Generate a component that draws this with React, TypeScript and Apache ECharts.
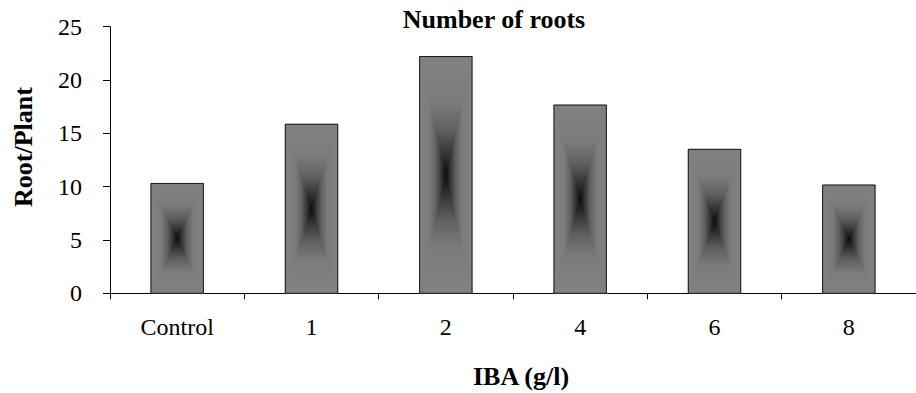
import React, { useEffect, useRef } from "react";
import * as echarts from "echarts";

const categories = ["Control", "1", "2", "4", "6", "8"];
const rootsPerPlant = [10.3, 15.85, 22.2, 17.65, 13.5, 10.15];
const yTicks = { min: 0, max: 25, interval: 5 };
const chartTitle = "Number of roots";
const xTitle = "IBA (g/l)";
const yTitle = "Root/Plant";

const FONT = "'Liberation Serif', 'Times New Roman', serif";

const stops = [
  { offset: 0, color: "#818181" },
  { offset: 0.38, color: "#7c7c7c" },
  { offset: 0.62, color: "#606060" },
  { offset: 0.82, color: "#363636" },
  { offset: 0.94, color: "#1a1a1a" },
  { offset: 1, color: "#0c0c0c" },
];

export default function App() {
  const ref = useRef<HTMLDivElement>(null);
  useEffect(() => {
    if (!ref.current) return;
    const chart = echarts.init(ref.current, null, { renderer: "svg" });
    const grad = (x: number, y: number, x2: number, y2: number) =>
      new echarts.graphic.LinearGradient(x, y, x2, y2, stops);
    const option: any = {
      animation: false,
      backgroundColor: "#ffffff",
      grid: { left: 110, top: 26.7, width: 816, height: 266.6, containLabel: false },
      xAxis: {
        type: "category",
        data: categories,
        boundaryGap: true,
        axisLine: { lineStyle: { color: "#000", width: 1 } },
        axisTick: { show: true, length: 6, lineStyle: { color: "#000" } },
        axisLabel: { color: "#000", fontFamily: FONT, fontSize: 24, margin: 22 },
        splitLine: { show: false },
      },
      yAxis: {
        type: "value",
        min: yTicks.min,
        max: yTicks.max,
        interval: yTicks.interval,
        axisLine: { show: true, lineStyle: { color: "#000", width: 1 } },
        axisTick: { show: true, length: 7, lineStyle: { color: "#000" } },
        axisLabel: { color: "#000", fontFamily: FONT, fontSize: 24, margin: 28 },
        splitLine: { show: false },
      },
      series: [
        {
          type: "custom",
          data: categories.map((c, i) => [i, rootsPerPlant[i]]),
          encode: { x: 0, y: 1 },
          renderItem: (params: any, api: any) => {
            const xi = api.value(0);
            const yv = api.value(1);
            const topPt = api.coord([xi, yv]);
            const basePt = api.coord([xi, 0]);
            const bw = api.size([1, 0])[0] * 0.39;
            const l = topPt[0] - bw / 2;
            const r = topPt[0] + bw / 2;
            const t = topPt[1];
            const b = basePt[1];
            const cx = topPt[0];
            const cy = (t + b) / 2;
            const tri = (pts: number[][], g: any) => ({
              type: "polygon",
              shape: { points: pts },
              style: { fill: g, stroke: g, lineWidth: 0.8 },
            });
            return {
              type: "group",
              children: [
                { type: "rect", shape: { x: l, y: t, width: r - l, height: b - t }, style: { fill: "#6a6a6a" } },
                tri([[l, t], [r, t], [cx, cy]], grad(0, 0, 0, 1)),
                tri([[l, b], [r, b], [cx, cy]], grad(0, 1, 0, 0)),
                tri([[l, t], [l, b], [cx, cy]], grad(0, 0, 1, 0)),
                tri([[r, t], [r, b], [cx, cy]], grad(1, 0, 0, 0)),
                {
                  type: "rect",
                  shape: { x: l, y: t, width: r - l, height: b - t },
                  style: { fill: "none", stroke: "#1a1a1a", lineWidth: 1 },
                },
              ],
            };
          },
        },
      ],
      graphic: [
        {
          type: "text",
          x: 494,
          y: 19,
          style: {
            text: chartTitle,
            font: `bold 26px ${FONT}`,
            fill: "#000",
            align: "center",
            verticalAlign: "middle",
          },
        },
        {
          type: "text",
          x: 521,
          y: 376,
          style: {
            text: xTitle,
            font: `bold 26px ${FONT}`,
            fill: "#000",
            align: "center",
            verticalAlign: "middle",
          },
        },
        {
          type: "text",
          x: 23,
          y: 147,
          rotation: Math.PI / 2,
          style: {
            text: yTitle,
            font: `bold 26px ${FONT}`,
            fill: "#000",
            align: "center",
            verticalAlign: "middle",
          },
        },
      ],
    };
    chart.setOption(option);
    return () => chart.dispose();
  }, []);
  return <div ref={ref} style={{ width: 916, height: 393, position: "absolute", left: 0, top: 0 }} />;
}
